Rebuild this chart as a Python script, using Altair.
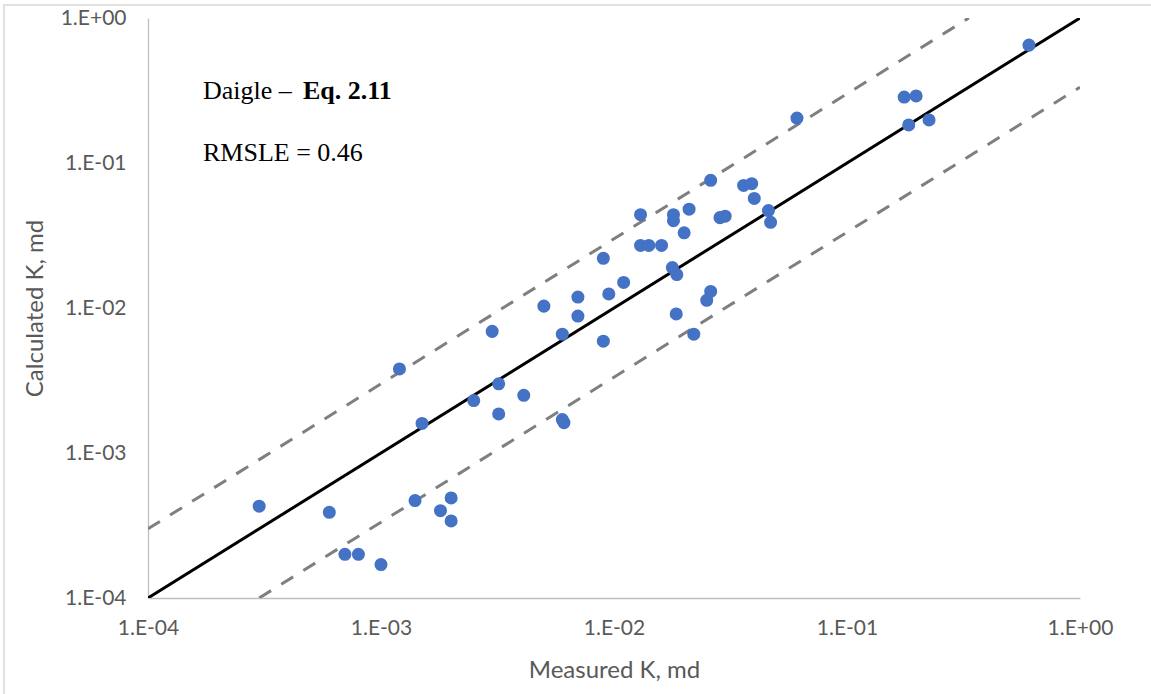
import altair as alt
import pandas as pd

# Measured vs calculated permeability (md)
measured = [3.0e-4, 6.0e-4, 7.0e-4, 8.0e-4, 1.0e-3, 1.4e-3, 1.8e-3, 2.0e-3, 2.0e-3,
            1.2e-3, 1.5e-3, 2.5e-3, 3.0e-3, 3.2e-3, 3.2e-3, 4.1e-3, 5.0e-3, 6.0e-3,
            6.0e-3, 6.1e-3, 7.0e-3, 7.0e-3, 9.0e-3, 9.0e-3, 9.5e-3, 1.1e-2, 1.3e-2,
            1.3e-2, 1.41e-2, 1.6e-2, 1.8e-2, 1.8e-2, 1.78e-2, 1.86e-2, 1.85e-2, 2.0e-2,
            2.1e-2, 2.2e-2, 2.6e-2, 2.6e-2, 2.5e-2, 2.85e-2, 3.0e-2, 3.6e-2, 3.9e-2,
            4.0e-2, 4.6e-2, 4.7e-2, 6.1e-2, 0.176, 0.198, 0.184, 0.225, 0.604]
calculated = [4.3e-4, 3.9e-4, 2.0e-4, 2.0e-4, 1.7e-4, 4.7e-4, 4.0e-4, 4.9e-4, 3.4e-4,
              3.8e-3, 1.6e-3, 2.3e-3, 6.9e-3, 3.0e-3, 1.86e-3, 2.5e-3, 1.03e-2, 6.6e-3,
              1.7e-3, 1.62e-3, 1.19e-2, 8.8e-3, 2.2e-2, 5.9e-3, 1.25e-2, 1.5e-2, 4.4e-2,
              2.7e-2, 2.7e-2, 2.7e-2, 4.4e-2, 4.0e-2, 1.9e-2, 1.7e-2, 9.1e-3, 3.3e-2,
              4.8e-2, 6.6e-3, 7.6e-2, 1.3e-2, 1.13e-2, 4.2e-2, 4.3e-2, 7.0e-2, 7.2e-2,
              5.7e-2, 4.7e-2, 3.9e-2, 0.204, 0.285, 0.29, 0.183, 0.198, 0.65]

# Reference lines: 1:1 line and factor-of-3 band
line_x = [1e-4, 1.0]
line_y = [1e-4, 1.0]
upper_x = [1e-4, 1.0 / 3.0]
upper_y = [3e-4, 1.0]
lower_x = [3e-4, 1.0]
lower_y = [1e-4, 1.0 / 3.0]

tick_values = [1e-4, 1e-3, 1e-2, 1e-1, 1.0]

pts = pd.DataFrame({"x": measured, "y": calculated})
one = pd.DataFrame({"x": line_x, "y": line_y})
up = pd.DataFrame({"x": upper_x, "y": upper_y})
lo = pd.DataFrame({"x": lower_x, "y": lower_y})
single = pd.DataFrame({"k": [0]})

exp_expr = "round(log(datum.value)/LN10)"
label_expr = ("'1.E' + (" + exp_expr + " < 0 ? '-' : '+') + (abs(" + exp_expr +
              ") < 10 ? '0' : '') + abs(" + exp_expr + ")")

xscale = alt.Scale(type="log", domain=[1e-4, 1.0], nice=False)
yscale = alt.Scale(type="log", domain=[1e-4, 1.0], nice=False)

lab_color = "#595959"
FONT = "Lato"

xaxis = alt.Axis(values=tick_values, labelExpr=label_expr, title="Measured K, md",
                 grid=False, ticks=False, domainColor="#BFBFBF", domainWidth=1.3,
                 labelFont=FONT, labelFontSize=21, labelColor=lab_color, labelPadding=19,
                 labelFlush=False, labelOverlap=False,
                 titleFont=FONT, titleFontSize=24, titleFontWeight="normal",
                 titleColor=lab_color, titleX=466, titleY=79,
                 titleBaseline="alphabetic", titleAlign="center")
yaxis = alt.Axis(values=tick_values, labelExpr=label_expr, title="Calculated K, md",
                 grid=False, ticks=False, domainColor="#BFBFBF", domainWidth=1.3,
                 labelFont=FONT, labelFontSize=21, labelColor=lab_color, labelPadding=22,
                 labelFlush=False, labelOverlap=False,
                 titleFont=FONT, titleFontSize=24, titleFontWeight="normal",
                 titleColor=lab_color, titleX=-106, titleY=290, titleAngle=270,
                 titleBaseline="alphabetic", titleAlign="center")

enc_x = alt.X("x:Q", scale=xscale, axis=xaxis)
enc_y = alt.Y("y:Q", scale=yscale, axis=yaxis)

base_line = alt.Chart(one).mark_line(color="black", strokeWidth=3, clip=True).encode(
    x=enc_x, y=enc_y)
upper_line = alt.Chart(up).mark_line(color="#7F7F7F", strokeWidth=3, strokeDash=[14, 12],
                                     clip=True).encode(
    x=alt.X("x:Q", scale=xscale), y=alt.Y("y:Q", scale=yscale))
lower_line = alt.Chart(lo).mark_line(color="#7F7F7F", strokeWidth=3, strokeDash=[14, 12],
                                     clip=True).encode(
    x=alt.X("x:Q", scale=xscale), y=alt.Y("y:Q", scale=yscale))
points = alt.Chart(pts).mark_point(filled=True, color="#4472C4", size=170, opacity=1,
                                   shape="circle").encode(
    x=alt.X("x:Q", scale=xscale), y=alt.Y("y:Q", scale=yscale))

t1 = alt.Chart(single).mark_text(text="Daigle \u2013 ", font="Liberation Serif", fontSize=26,
                                 align="left", baseline="alphabetic", color="black").encode(
    x=alt.value(55), y=alt.value(81))
t2 = alt.Chart(single).mark_text(text="Eq. 2.11", font="Liberation Serif", fontSize=26,
                                 fontWeight="bold", align="left", baseline="alphabetic",
                                 color="black").encode(
    x=alt.value(155), y=alt.value(81))
t3 = alt.Chart(single).mark_text(text="RMSLE = 0.46", font="Liberation Serif", fontSize=26,
                                 align="left", baseline="alphabetic", color="black").encode(
    x=alt.value(55), y=alt.value(143))

frame_top = alt.Chart(single).mark_rule(color="#D9D9D9", strokeWidth=1.5).encode(
    x=alt.value(-145), x2=alt.value(1003), y=alt.value(-13))
frame_left = alt.Chart(single).mark_rule(color="#D9D9D9", strokeWidth=1.5).encode(
    x=alt.value(-144), y=alt.value(-13), y2=alt.value(676))

chart = alt.layer(base_line, upper_line, lower_line, points, t1, t2, t3,
                  frame_top, frame_left).properties(
    width=932, height=580,
    autosize=alt.AutoSizeParams(type="none"),
    padding={"left": 148, "top": 18, "right": 71, "bottom": 96},
    background="white",
).configure_view(stroke=None)

chart.save("out.html", embed_options={"renderer": "svg", "actions": False})
